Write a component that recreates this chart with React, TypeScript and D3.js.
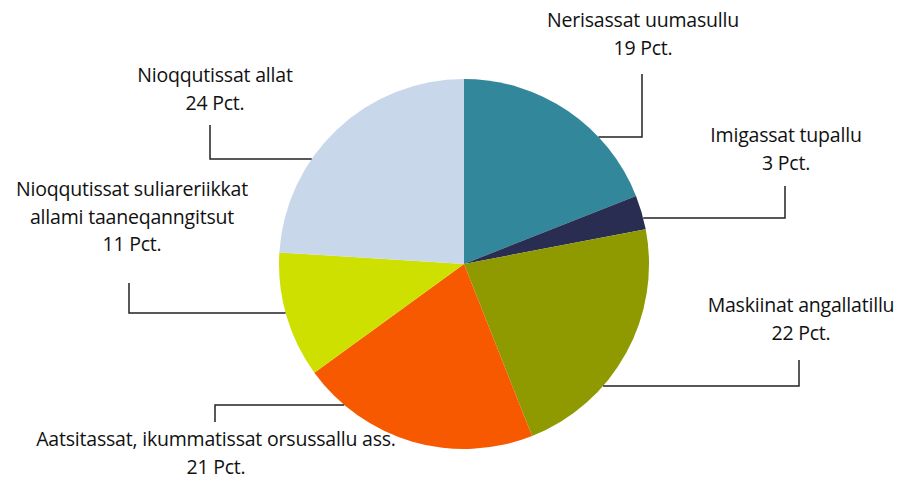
import React from "react";
import * as d3 from "d3";

const categories = [
  "Nerisassat uumasullu",
  "Imigassat tupallu",
  "Maskiinat angallatillu",
  "Aatsitassat, ikummatissat orsussallu ass.",
  "Nioqqutissat suliareriikkat allami taaneqanngitsut",
  "Nioqqutissat allat",
];
const shares = [19, 3, 22, 21, 11, 24];
const colors = ["#33879a", "#2a2d52", "#8e9a00", "#f75900", "#cde000", "#c8d7ea"];

// label text lines per slice
const labelLines = [
  ["Nerisassat uumasullu", "19 Pct."],
  ["Imigassat tupallu", "3 Pct."],
  ["Maskiinat angallatillu", "22 Pct."],
  ["Aatsitassat, ikummatissat orsussallu ass.", "21 Pct."],
  ["Nioqqutissat suliareriikkat", "allami taaneqanngitsut", "11 Pct."],
  ["Nioqqutissat allat", "24 Pct."],
];

// leader layout: y of horizontal line, x of elbow, y where the elbow meets the label, label centre x, first line y
const leaders = [
  { ly: 137, ex: 642, ey: 74, tx: 643, ty: 22, side: 1 },
  { ly: 218, ex: 785, ey: 186, tx: 786, ty: 137, side: 1 },
  { ly: 386, ex: 799, ey: 360, tx: 801, ty: 307, side: 1 },
  { ly: 405, ex: 215, ey: 422, tx: 216, ty: 441, side: -1 },
  { ly: 313, ex: 129, ey: 283, tx: 132, ty: 191, side: -1 },
  { ly: 159, ex: 210, ey: 125, tx: 215, ty: 77, side: -1 },
];

const W = 912;
const H = 483;
const cx = 464;
const cy = 264;
const R = 185;
const lineH = 27.5;

export default function App() {
  const pie = d3.pie<number>().sort(null).startAngle(0).endAngle(2 * Math.PI);
  const arcs = pie(shares);
  const arc = d3.arc<d3.PieArcDatum<number>>().innerRadius(0).outerRadius(R);

  return (
    <svg
      width={W}
      height={H}
      style={{ position: "absolute", left: 0, top: 0, background: "#fff" }}
      fontFamily="'Open Sans', sans-serif"
      fontSize={19.5}
    >
      <g transform={`translate(${cx},${cy})`}>
        {arcs.map((a, i) => (
          <path key={categories[i]} d={arc(a) ?? ""} fill={colors[i]} />
        ))}
      </g>
      {leaders.map((l, i) => {
        const dy = l.ly - cy;
        const px = cx + l.side * Math.sqrt(R * R - dy * dy);
        return (
          <path
            key={`leader/${i}`}
            d={`M${px},${l.ly}H${l.ex}V${l.ey}`}
            fill="none"
            stroke="#222"
            strokeWidth={1.5}
          />
        );
      })}
      {labelLines.map((lines, i) => (
        <text
          key={`label/${i}`}
          textAnchor="middle"
          fill="#111"
          letterSpacing={-0.2}
        >
          {lines.map((t, j) => (
            <tspan
              key={j}
              x={leaders[i].tx}
              y={leaders[i].ty + j * lineH}
              dominantBaseline="middle"
            >
              {t}
            </tspan>
          ))}
        </text>
      ))}
    </svg>
  );
}
